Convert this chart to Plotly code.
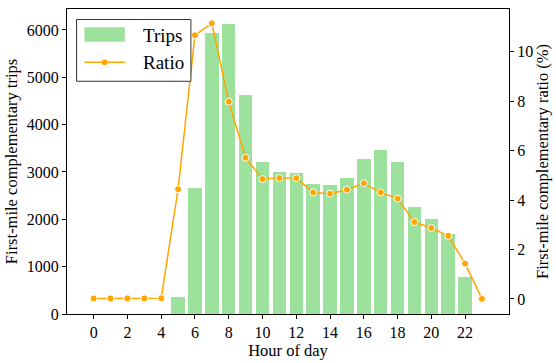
import plotly.graph_objects as go

hours = list(range(24))
trips = [0, 0, 0, 0, 0, 358, 2658, 5931, 6118, 4626, 3217, 3010, 2975, 2747, 2720,
         2865, 3280, 3466, 3217, 2264, 2016, 1684, 773, 0]
ratio = [0.02, 0.02, 0.02, 0.02, 0.03, 4.44, 10.67, 11.15, 7.98, 5.71, 4.85, 4.89, 4.89,
         4.31, 4.26, 4.42, 4.68, 4.31, 4.06, 3.11, 2.87, 2.55, 1.43, 0.0]
x_ticks = list(range(0, 23, 2))
y_ticks = list(range(0, 6001, 1000))
y2_ticks = list(range(0, 11, 2))

BAR = "#9CE29C"
LINE = "#FFA500"
FONT = "Liberation Serif, Times New Roman, serif"

fig = go.Figure()
fig.add_trace(go.Bar(x=hours, y=trips, width=0.8, marker=dict(color=BAR, line=dict(width=0)),
                     name="Trips", showlegend=False))
fig.add_trace(go.Scatter(x=hours, y=ratio, yaxis="y2", mode="lines+markers", name="Ratio",
                         line=dict(color=LINE, width=1.5),
                         marker=dict(color=LINE, size=7, line=dict(color="white", width=1)),
                         showlegend=False))

W, H = 556, 363
L, R, T, B = 67.3, 40.3, 7.3, 44.7
pw, ph = W - L - R, H - T - B

def px(x):
    return (x - L) / pw

def py(y):
    return (H - B - y) / ph

shapes = [
    dict(type="rect", xref="paper", yref="paper", x0=px(77), x1=px(193), y0=py(81), y1=py(18),
         line=dict(color="#333333", width=1), fillcolor="white", layer="above"),
    dict(type="rect", xref="paper", yref="paper", x0=px(85), x1=px(126), y0=py(40.7), y1=py(26),
         line=dict(width=0), fillcolor=BAR, layer="above"),
    dict(type="line", xref="paper", yref="paper", x0=px(85), x1=px(126), y0=py(61.7), y1=py(61.7),
         line=dict(color=LINE, width=1.5), layer="above"),
    dict(type="circle", xref="paper", yref="paper", x0=px(102.5), x1=px(108.5), y0=py(64.7), y1=py(58.7),
         line=dict(color=LINE, width=0), fillcolor=LINE, layer="above"),
]
annotations = [
    dict(text="Trips", xref="paper", yref="paper", x=px(142), y=py(34), xanchor="left", yanchor="middle",
         showarrow=False, font=dict(family=FONT, size=19, color="black")),
    dict(text="Ratio", xref="paper", yref="paper", x=px(142), y=py(62), xanchor="left", yanchor="middle",
         showarrow=False, font=dict(family=FONT, size=19, color="black")),
]

axis_common = dict(showgrid=False, zeroline=False, showline=True, linecolor="black", linewidth=1.25,
                   ticks="outside", ticklen=4, tickwidth=1, tickcolor="black",
                   tickfont=dict(family=FONT, size=16, color="black"))

fig.update_layout(
    width=W, height=H,
    margin=dict(l=L, r=R, t=T, b=B, pad=0),
    plot_bgcolor="white", paper_bgcolor="white",
    font=dict(family=FONT, color="black"),
    bargap=0,
    xaxis=dict(**axis_common, range=[-1.58, 24.6], tickvals=x_ticks, mirror=True,
               title=dict(text="Hour of day", font=dict(family=FONT, size=16.5), standoff=3)),
    yaxis=dict(**axis_common, range=[0, 6443], tickvals=y_ticks,
               title=dict(text="First-mile complementary trips", font=dict(family=FONT, size=16.5), standoff=4)),
    yaxis2=dict(**axis_common, range=[-0.61, 11.73], tickvals=y2_ticks, overlaying="y", side="right",
                title=dict(text="First-mile complementary ratio (%)", font=dict(family=FONT, size=16.5), standoff=4)),
    shapes=shapes, annotations=annotations,
)

fig.write_html("out.html")
